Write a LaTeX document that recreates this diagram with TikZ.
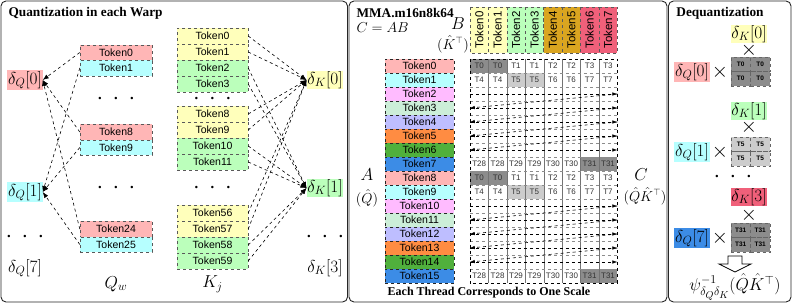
\documentclass[tikz,border=0pt]{standalone}
\usepackage{amsmath}
\usepackage{fontspec}
\setmainfont{Liberation Serif}
\setsansfont{Liberation Sans}
\usetikzlibrary{arrows.meta}
\definecolor{QPink}{RGB}{255,182,182}
\definecolor{QCyan}{RGB}{182,255,255}
\definecolor{KYellow}{RGB}{255,255,187}
\definecolor{KGreen}{RGB}{187,255,187}
\definecolor{AMagenta}{RGB}{255,187,255}
\definecolor{AMint}{RGB}{204,238,216}
\definecolor{ALavender}{RGB}{190,190,255}
\definecolor{AOrange}{RGB}{255,140,66}
\definecolor{AGreen}{RGB}{80,176,60}
\definecolor{ABlue}{RGB}{60,140,230}
\definecolor{BGold}{RGB}{218,165,32}
\definecolor{BRed}{RGB}{240,96,122}
\definecolor{CDark}{RGB}{140,140,140}
\definecolor{CLight}{RGB}{204,204,204}
\newcommand{\threedots}{\textbullet\hspace{12.8pt}\textbullet\hspace{12.8pt}\textbullet}

\begin{document}
\begin{tikzpicture}[x=1pt, y=-1pt,
    panel/.style={draw=black!85, line width=0.9pt, rounded corners=5pt},
    ttl/.style={font=\fontsize{13.3}{15}\selectfont\bfseries},
    tok/.style={draw=black!65, dashed, minimum width=72pt, minimum height=15.5pt,
                inner sep=0pt, font=\sffamily\fontsize{10.5}{12}\selectfont},
    ktok/.style={tok, minimum width=71pt, minimum height=16pt},
    atok/.style={tok, draw=black!85, minimum width=69pt, minimum height=14pt},
    btok/.style={tok, rotate=90, minimum width=46pt, minimum height=18.4pt,
                 font=\sffamily\fontsize{11.5}{12}\selectfont},
    cell/.style={minimum width=18.4pt, minimum height=14pt, inner sep=0pt,
                 text=black!80, font=\sffamily\fontsize{8}{9}\selectfont},
    dcell/.style={draw=black!60, dashed, minimum width=19.5pt, minimum height=14.5pt,
                  inner sep=0pt, font=\sffamily\bfseries\fontsize{6.5}{7}\selectfont},
    dlt/.style={inner sep=0.6pt, font=\LARGE},
    big/.style={font=\LARGE, inner sep=0pt},
    mid/.style={font=\fontsize{13.5}{15}\selectfont, inner sep=0pt},
    mul/.style={font=\huge, inner sep=0pt},
    dts/.style={font=\sffamily\fontsize{9}{9}\selectfont, inner sep=0pt},
    arr/.style={-{Latex[length=6pt,width=4.5pt]}, dashed, line width=0.6pt},
    garr/.style={-{Latex[length=5pt,width=3.5pt]}, dashed, line width=0.6pt},
    vline/.style={draw=black!55, line width=0.5pt},
    hline/.style={draw=black!45, dashed, line width=0.5pt}
  ]
  \useasboundingbox (0,0) rectangle (792,303);

  % panels
  \draw[panel] (1,1) rectangle (347.5,302);
  \draw[panel] (349,1) rectangle (667,302);
  \draw[panel] (668.5,1) rectangle (791,302);

  % ---------------- Quantization in each Warp
  \node[ttl, anchor=west] (t1) at (5,13) {Quantization in each Warp};

  % Q scales
  \node[dlt, fill=QPink] (dq0) at (25,80) {$\delta_Q[0]$};
  \node[dlt, fill=QCyan] (dq1) at (25,192) {$\delta_Q[1]$};
  \node[dts] (dqd) at (25,237) {\threedots};
  \node[dlt] (dq7) at (25,268) {$\delta_Q[7]$};

  % Q_w tokens
  \node[tok, fill=QPink] (q0) at (116,52.5) {Token0};
  \node[tok, fill=QCyan] (q1) at (116,68) {Token1};
  \node[dts] (qd1) at (116,99) {\threedots};
  \node[tok, fill=QPink] (q8) at (116,132) {Token8};
  \node[tok, fill=QCyan] (q9) at (116,147.5) {Token9};
  \node[dts] (qd2) at (116,188) {\threedots};
  \node[tok, fill=QPink] (q24) at (116,229) {Token24};
  \node[tok, fill=QCyan] (q25) at (116,244.5) {Token25};
  \node[big] (qw) at (116,284) {$Q_w$};

  % K_j tokens
  \node[ktok, fill=KYellow] (k0) at (212.5,36) {Token0};
  \node[ktok, fill=KYellow] (k1) at (212.5,52) {Token1};
  \node[ktok, fill=KGreen] (k2) at (212.5,68) {Token2};
  \node[ktok, fill=KGreen] (k3) at (212.5,84) {Token3};
  \node[dts] (kd1) at (212.5,99) {\threedots};
  \node[ktok, fill=KYellow] (k8) at (212.5,114) {Token8};
  \node[ktok, fill=KYellow] (k9) at (212.5,130) {Token9};
  \node[ktok, fill=KGreen] (k10) at (212.5,146) {Token10};
  \node[ktok, fill=KGreen] (k11) at (212.5,162) {Token11};
  \node[dts] (kd2) at (212.5,188) {\threedots};
  \node[ktok, fill=KYellow] (k56) at (212.5,213) {Token56};
  \node[ktok, fill=KYellow] (k57) at (212.5,229) {Token57};
  \node[ktok, fill=KGreen] (k58) at (212.5,245) {Token58};
  \node[ktok, fill=KGreen] (k59) at (212.5,261) {Token59};
  \node[big] (kj) at (212.5,284) {$K_j$};

  % K scales
  \node[dlt, fill=KYellow] (dk0) at (325,80) {$\delta_K[0]$};
  \node[dlt, fill=KGreen] (dk1) at (325,188) {$\delta_K[1]$};
  \node[dts] (dkd) at (325,237) {\threedots};
  \node[dlt] (dk3) at (325,268) {$\delta_K[3]$};

  % tokens to scales
  \foreach \t in {0,8,24} \draw[arr] (q\t.west) -- (dq0.east);
  \foreach \t in {1,9,25} \draw[arr] (q\t.west) -- (dq1.east);
  \foreach \t in {0,1,8,9,56,57} \draw[arr] (k\t.east) -- (dk0.west);
  \foreach \t in {2,3,10,11,58,59} \draw[arr] (k\t.east) -- (dk1.west);

  % ---------------- MMA
  \node[ttl, anchor=west] (t2) at (353,13) {MMA.m16n8k64};
  \node[anchor=west, font=\fontsize{15}{17}\selectfont] (cab) at (353,28) {$C=AB$};
  \node[big] (lb) at (458,24) {$B$};
  \node[mid] (lbk) at (453,44) {$(\hat{K}^{\top})$};
  \node[big] (la) at (367,175) {$A$};
  \node[mid] (laq) at (367,198) {$(\hat{Q})$};
  \node[big] (lc) at (641,175) {$C$};
  \node[mid] (lcq) at (645,196) {$(\hat{Q}\hat{K}^{\top})$};

  % B tokens
  \foreach \i/\c in {0/KYellow,1/KYellow,2/KGreen,3/KGreen,4/BGold,5/BGold,6/BRed,7/BRed}
    \node[btok, fill=\c] (b\i) at ({479.2+18.4*\i},30) {Token\i};

  % A tokens
  \foreach \i/\c in {0/QPink,1/QCyan,2/AMagenta,3/AMint,4/ALavender,5/AOrange,6/AGreen,7/ABlue,
                     8/QPink,9/QCyan,10/AMagenta,11/AMint,12/ALavender,13/AOrange,14/AGreen,15/ABlue}
    \node[atok, fill=\c] (a\i) at (419.5,{66+14*\i}) {Token\i};

  % thread layout of C
  \foreach \b in {0,8} {
    \pgfmathtruncatemacro\ra{\b+1}
    \pgfmathtruncatemacro\rb{\b+7}
    \foreach \c/\t/\f in {0/0/CDark,1/0/CDark,2/1/white,3/1/white,4/2/white,5/2/white,6/3/white,7/3/white}
      \node[cell, fill=\f] (g\b-\c) at ({479.2+18.4*\c},{66+14*\b}) {T\t};
    \foreach \c/\t/\f in {0/4/white,1/4/white,2/5/CLight,3/5/CLight,4/6/white,5/6/white,6/7/white,7/7/white}
      \node[cell, fill=\f] (g\ra-\c) at ({479.2+18.4*\c},{66+14*\ra}) {T\t};
    \foreach \c/\t/\f in {0/28/white,1/28/white,2/29/white,3/29/white,4/30/white,5/30/white,6/31/CDark,7/31/CDark}
      \node[cell, fill=\f] (g\rb-\c) at ({479.2+18.4*\c},{66+14*\rb}) {T\t};
    \foreach \m in {2,...,6} {
      \pgfmathtruncatemacro\r{\b+\m}
      \foreach \c in {0,...,7}
        \node[cell] (g\r-\c) at ({479.2+18.4*\c},{66+14*\r}) {};
    }
  }
  \foreach \c in {0,...,6} \draw[vline] (g0-\c.north east) -- (g15-\c.south east);
  \foreach \r in {0,...,14} \draw[hline] (g\r-0.south west) -- (g\r-7.south east);
  \draw[dashed, line width=0.6pt] (g0-0.north west) rectangle (g15-7.south east);

  % scan order of the rows
  \foreach \b in {0,8} {
    \foreach \m in {2,...,6} {
      \pgfmathtruncatemacro\r{\b+\m}
      \draw[garr] (g\r-0.west) -- (g\r-7.east);
    }
    \foreach \m in {2,...,5} {
      \pgfmathtruncatemacro\r{\b+\m}
      \pgfmathtruncatemacro\s{\b+\m+1}
      \draw[garr] (g\r-7.east) -- (g\s-0.west);
    }
  }

  \node[font=\fontsize{12}{14}\selectfont\bfseries] (cap) at (489,293)
        {Each Thread Corresponds to One Scale};

  % ---------------- Dequantization
  \node[ttl] (t3) at (720,13) {Dequantization};

  \node[dlt, fill=KYellow] (ek0) at (749,34) {$\delta_K[0]$};
  \node[mul] (m0) at (749,50) {$\times$};
  \node[dlt, fill=QPink] (eq0) at (692,72) {$\delta_Q[0]$};
  \node[mul] (n0) at (720,72) {$\times$};
  \foreach \n/\x/\y in {a/740.75/64.25,b/760.25/64.25,c/740.75/78.75,d/760.25/78.75}
    \node[dcell, fill=CDark] (s0\n) at (\x,\y) {T0};

  \node[dlt, fill=KGreen] (ek1) at (749,111) {$\delta_K[1]$};
  \node[mul] (m1) at (749,127) {$\times$};
  \node[dlt, fill=QCyan] (eq1) at (692,152) {$\delta_Q[1]$};
  \node[mul] (n1) at (720,152) {$\times$};
  \foreach \n/\x/\y in {a/740.75/144.25,b/760.25/144.25,c/740.75/158.75,d/760.25/158.75}
    \node[dcell, fill=CLight] (s1\n) at (\x,\y) {T5};

  \node[dts] (ed) at (733,177) {\threedots};

  \node[dlt, fill=BRed] (ek3) at (749,197) {$\delta_K[3]$};
  \node[mul] (m3) at (749,215) {$\times$};
  \node[dlt, fill=ABlue] (eq7) at (692,238) {$\delta_Q[7]$};
  \node[mul] (n7) at (720,238) {$\times$};
  \foreach \n/\x/\y in {a/740.75/230.25,b/760.25/230.25,c/740.75/244.75,d/760.25/244.75}
    \node[dcell, fill=CDark] (s7\n) at (\x,\y) {T31};

  \draw[line width=0.8pt, fill=white] (728,256) -- (742,256) -- (742,264) -- (751,264)
        -- (735,272) -- (719,264) -- (728,264) -- cycle;
  \node[big] (psi) at (735,287) {$\psi^{-1}_{\delta_Q\delta_K}(\hat{Q}\hat{K}^{\top})$};
\end{tikzpicture}
\end{document}
